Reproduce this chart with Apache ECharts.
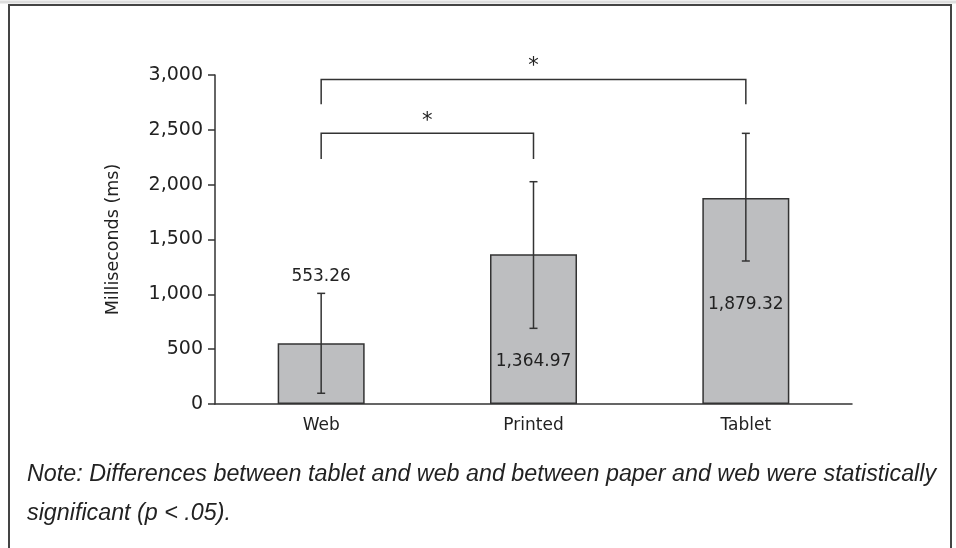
<!DOCTYPE html>
<html>
<head>
<meta charset="utf-8">
<script src="https://cdn.jsdelivr.net/npm/echarts@6/dist/echarts.min.js"></script>
<style>
  html, body { margin: 0; padding: 0; background: #fff; }
  #chart { width: 956px; height: 548px; }
</style>
</head>
<body>
<div id="chart"></div>
<script>
const categories = ['Web', 'Printed', 'Tablet']
const means = [553.26, 1364.97, 1879.32]
const errLow = [98, 690, 1304]
const errHigh = [1009, 2027, 2468]
const yTicks = [0, 500, 1000, 1500, 2000, 2500, 3000]

// significance brackets: from / to category, top line value, foot value, star value
const bracketFrom = ['Web', 'Web']
const bracketTo = ['Printed', 'Tablet']
const bracketTop = [2468, 2960]
const bracketFoot = [2234, 2733]
const bracketStar = [2600, 3100]

const noteLines = [
  'Note: Differences between tablet and web and between paper and web were statistically',
  'significant (p < .05).',
]

const font = 'DejaVu Sans'
const ink = '#333'

const chart = echarts.init(document.getElementById('chart'))

const labelCfg = [
  { show: true, position: 'top', distance: 58 },
  { show: true, position: 'insideBottom', distance: 34 },
  { show: true, position: 'inside', offset: [0, 4] },
]

chart.setOption({
  backgroundColor: '#fff',
  animation: false,
  grid: { left: 215, right: 104, top: 75, bottom: 144 },
  xAxis: {
    type: 'category',
    data: categories,
    axisLine: { lineStyle: { color: ink, width: 1.5 } },
    axisTick: { show: false },
    axisLabel: { color: '#222', fontFamily: font, fontSize: 17, margin: 13 },
  },
  yAxis: {
    type: 'value',
    min: yTicks[0],
    max: yTicks[yTicks.length - 1],
    interval: 500,
    name: 'Milliseconds (ms)',
    nameLocation: 'middle',
    nameGap: 93,
    nameTextStyle: { color: '#222', fontFamily: font, fontSize: 17.5 },
    axisLine: { show: true, lineStyle: { color: ink, width: 1.5 } },
    axisTick: { show: true, length: 7, lineStyle: { color: ink, width: 1.5 } },
    splitLine: { show: false },
    axisLabel: {
      color: '#222', fontFamily: font, fontSize: 19, margin: 12,
      formatter: (v) => v.toLocaleString('en-US'),
    },
  },
  series: [
    {
      type: 'bar',
      barWidth: 87,
      data: means.map((v, i) => ({ value: v, label: labelCfg[i] })),
      itemStyle: { color: '#bdbec0', borderColor: ink, borderWidth: 1.5 },
      label: {
        color: '#222', fontFamily: font, fontSize: 17,
        formatter: (p) => p.value.toLocaleString('en-US', { minimumFractionDigits: 2 }),
      },
      z: 2,
    },
    {
      type: 'custom',
      data: categories.map((c, i) => [i, errLow[i], errHigh[i]]),
      clip: false,
      z: 5,
      renderItem: (params, api) => {
        const lo = api.coord([api.value(0), api.value(1)])
        const hi = api.coord([api.value(0), api.value(2)])
        const cap = 4
        const style = { stroke: ink, lineWidth: 1.5 }
        return {
          type: 'group',
          children: [
            { type: 'line', shape: { x1: lo[0], y1: lo[1], x2: hi[0], y2: hi[1] }, style },
            { type: 'line', shape: { x1: lo[0] - cap, y1: lo[1], x2: lo[0] + cap, y2: lo[1] }, style },
            { type: 'line', shape: { x1: hi[0] - cap, y1: hi[1], x2: hi[0] + cap, y2: hi[1] }, style },
          ],
        }
      },
    },
    {
      type: 'custom',
      data: bracketFrom.map((f, i) => [
        categories.indexOf(f), categories.indexOf(bracketTo[i]),
        bracketTop[i], bracketFoot[i], bracketStar[i],
      ]),
      clip: false,
      z: 5,
      renderItem: (params, api) => {
        const a = api.coord([api.value(0), api.value(2)])
        const b = api.coord([api.value(1), api.value(2)])
        const foot = api.coord([api.value(0), api.value(3)])[1]
        const star = api.coord([api.value(0), api.value(4)])[1]
        const style = { stroke: ink, lineWidth: 1.5, fill: null }
        return {
          type: 'group',
          children: [
            {
              type: 'polyline',
              shape: { points: [[a[0], foot], [a[0], a[1]], [b[0], b[1]], [b[0], foot]] },
              style,
            },
            {
              type: 'text',
              style: {
                text: '*', x: (a[0] + b[0]) / 2, y: star + 3,
                align: 'center', verticalAlign: 'middle',
                fill: '#222', fontFamily: font, fontSize: 21,
              },
            },
          ],
        }
      },
    },
  ],
  graphic: [
    {
      type: 'rect',
      shape: { x: 9, y: 5, width: 942, height: 600 },
      style: { fill: null, stroke: '#444', lineWidth: 2 },
      silent: true,
    },
    {
      type: 'line',
      shape: { x1: 0, y1: 2, x2: 956, y2: 2 },
      style: { stroke: '#ddd', lineWidth: 3 },
      silent: true,
    },
    ...noteLines.map((t, i) => ({
      type: 'text',
      left: 27,
      top: 463 + i * 39,
      style: {
        text: t, fill: '#222', fontFamily: 'Liberation Sans', fontSize: 23.3, fontStyle: 'italic',
      },
    })),
  ],
})
</script>
</body>
</html>
